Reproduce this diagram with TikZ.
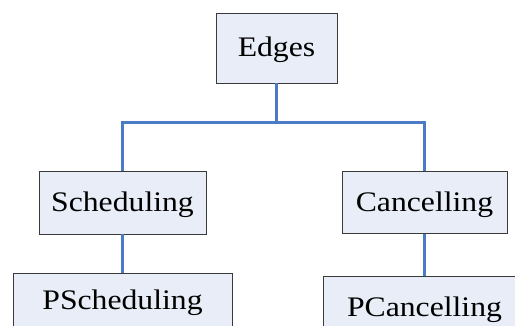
\documentclass[tikz,border=0pt]{standalone}
\usepackage{fontspec}
\newfontfamily\boxfont[FakeStretch=1.12]{Liberation Serif}
\definecolor{boxfill}{HTML}{E8EDF7}
\definecolor{boxline}{HTML}{3A3A3A}
\definecolor{linkblue}{HTML}{4A7BC4}
\begin{document}
\begin{tikzpicture}[x=1pt,y=-1pt,
  treebox/.style={draw=boxline, line width=0.9pt, fill=boxfill, inner sep=0pt,
    font=\boxfont\fontsize{28.3}{30}\selectfont, text height=20pt, text depth=3pt},
  link/.style={draw=linkblue, line width=3pt}]
  \useasboundingbox (0,0) rectangle (515,325);
  \clip (0,0) rectangle (515,325);
  % tree nodes
  \node[treebox, minimum width=121pt, minimum height=70pt] (edges) at (276.5,48) {Edges};
  \node[treebox, minimum width=167pt, minimum height=63pt] (sched) at (122.5,202.5) {Scheduling};
  \node[treebox, minimum width=165pt, minimum height=62pt] (canc) at (424.5,202.5) {Cancelling};
  \node[treebox, minimum width=219pt, minimum height=55pt] (psched) at (122.5,300.5) {PScheduling};
  \node[treebox, minimum width=203pt, minimum height=64pt] (pcanc) at (424.5,308) {PCancelling};
  % horizontal bus
  \coordinate (busL) at (122.5,122);
  \coordinate (busR) at (424.5,122);
  % connectors
  \draw[link] (edges.south) -- (edges.south |- busL);
  \draw[link] (sched.north) -- (busL) -- (busR) -- (canc.north);
  \draw[link] (sched.south) -- (psched.north);
  \draw[link] (canc.south) -- (pcanc.north);
\end{tikzpicture}
\end{document}
